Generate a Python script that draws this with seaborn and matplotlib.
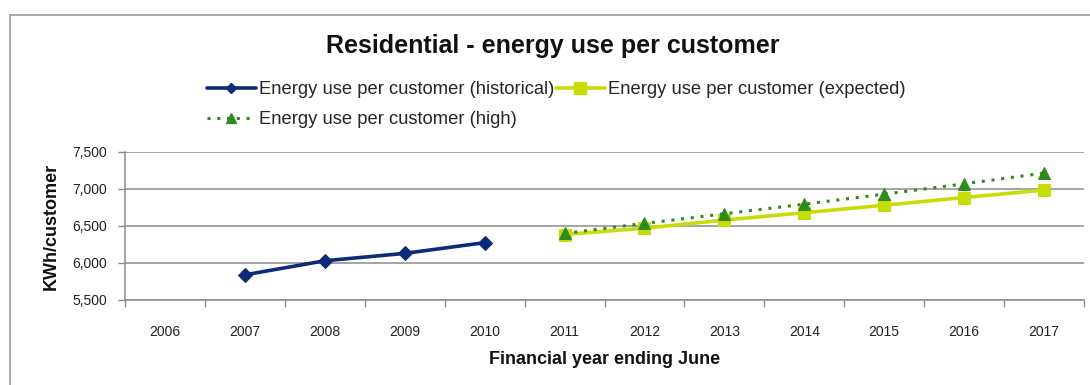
import matplotlib
matplotlib.use("Agg")
import matplotlib.pyplot as plt
import matplotlib.patches as mpatches
from matplotlib.ticker import FuncFormatter, FixedLocator
import numpy as np
import pandas as pd
import seaborn as sns

years = [2006, 2007, 2008, 2009, 2010, 2011, 2012, 2013, 2014, 2015, 2016, 2017]

hist_years = [2007, 2008, 2009, 2010]
hist_values = [5840, 6030, 6130, 6275]

exp_years = [2011, 2012, 2013, 2014, 2015, 2016, 2017]
exp_values = [6385, 6470, 6580, 6680, 6780, 6885, 6985]

high_years = [2011, 2012, 2013, 2014, 2015, 2016, 2017]
high_values = [6400, 6535, 6665, 6795, 6930, 7070, 7215]

y_ticks = [5500, 6000, 6500, 7000, 7500]

sns.set_theme(style="white")
plt.rcParams["font.family"] = ["Liberation Sans", "DejaVu Sans"]

fig = plt.figure(figsize=(10.9, 3.85), dpi=100)
ax = fig.add_axes([0.1147, 0.2208, 0.8798, 0.3844])

pos = {y: i for i, y in enumerate(years)}
hist_df = pd.DataFrame({"x": [pos[y] for y in hist_years], "v": hist_values})
exp_df = pd.DataFrame({"x": [pos[y] for y in exp_years], "v": exp_values})
high_df = pd.DataFrame({"x": [pos[y] for y in high_years], "v": high_values})

navy = "#0b2a78"
lime = "#c8dc0a"
green = "#2e8b1e"

sns.lineplot(data=hist_df, x="x", y="v", ax=ax, color=navy, linewidth=2.6,
             marker="D", markersize=7, markeredgecolor=navy, zorder=3)
sns.lineplot(data=exp_df, x="x", y="v", ax=ax, color=lime, linewidth=2.6,
             marker="s", markersize=9, markeredgecolor=lime, zorder=3)
sns.lineplot(data=high_df, x="x", y="v", ax=ax, color=green, linewidth=2.2,
             linestyle=(0, (1, 2.2)), marker="^", markersize=9,
             markeredgecolor=green, zorder=4)

ax.set_xlim(-0.5, len(years) - 0.5)
ax.set_ylim(y_ticks[0], y_ticks[-1])
ax.set_xticks(range(len(years)))
ax.set_xticklabels([str(y) for y in years])
ax.xaxis.set_minor_locator(FixedLocator(np.arange(-0.5, len(years), 1.0)))
ax.set_yticks(y_ticks)
ax.yaxis.set_major_formatter(FuncFormatter(lambda v, p: f"{int(v):,}"))

ax.yaxis.grid(True, color="#8c8c8c", linewidth=1.1)
ax.xaxis.grid(False)
ax.set_axisbelow(True)

for side in ("top", "right"):
    ax.spines[side].set_visible(False)
for side in ("left", "bottom"):
    ax.spines[side].set_visible(True)
    ax.spines[side].set_color("#8c8c8c")
    ax.spines[side].set_linewidth(1.1)

ax.tick_params(axis="y", which="major", left=True, length=5, width=1,
               color="#8c8c8c", labelsize=10, labelcolor="#222222", pad=8)
ax.tick_params(axis="x", which="major", bottom=False, labelsize=10,
               labelcolor="#222222", pad=12)
ax.tick_params(axis="x", which="minor", bottom=True, length=5, width=1,
               color="#8c8c8c")

ax.set_xlabel("Financial year ending June", fontsize=13, fontweight="bold",
              labelpad=9, color="#111111")
ax.set_ylabel("KWh/customer", fontsize=13, fontweight="bold",
              labelpad=9, color="#111111")

fig.text(0.507, 0.88, "Residential - energy use per customer", ha="center",
         va="center", fontsize=18, fontweight="bold", color="#111111")

h_hist = plt.Line2D([], [], color=navy, linewidth=2.6, marker="D",
                    markersize=5.5, markeredgecolor=navy)
h_exp = plt.Line2D([], [], color=lime, linewidth=2.6, marker="s",
                   markersize=8, markeredgecolor=lime)
h_high = plt.Line2D([], [], color=green, linewidth=2.2,
                    linestyle=(0, (1, 2.2)), marker="^", markersize=7,
                    markeredgecolor=green)
fig.legend([h_hist, h_high, h_exp],
           ["Energy use per customer (historical)",
            "Energy use per customer (high)",
            "Energy use per customer (expected)"],
           ncol=2, loc="upper left", bbox_to_anchor=(0.19, 0.789),
           frameon=False, fontsize=13.2, handlelength=2.65,
           handletextpad=0.16, columnspacing=0.12, labelspacing=0.7,
           borderaxespad=0, borderpad=0)

border = mpatches.Rectangle((10 / 1090, -0.05), 1.2, 1 - 15 / 385 + 0.05,
                            transform=fig.transFigure, fill=False,
                            edgecolor="#a0a0a0", linewidth=1.3)
fig.add_artist(border)

fig.savefig("out.png", dpi=100, facecolor="white")
